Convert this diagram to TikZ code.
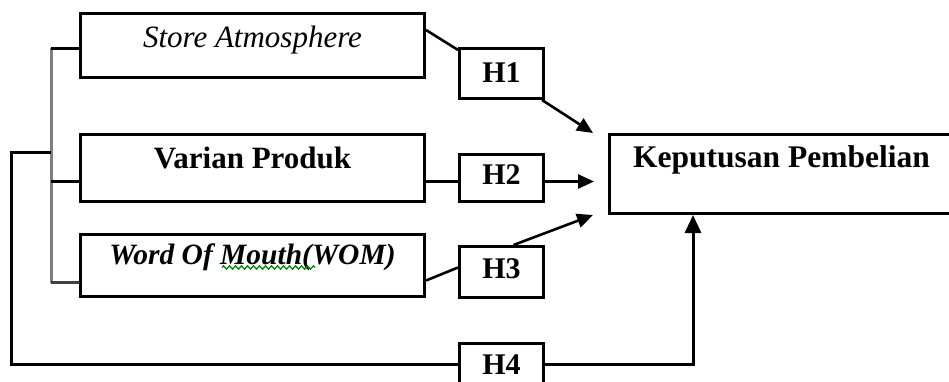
\documentclass[tikz,border=0pt]{standalone}
\usepackage{fontspec}
\setmainfont{Liberation Serif}
\usetikzlibrary{arrows.meta,decorations.pathmorphing}

\tikzset{
  boxnode/.style={draw, line width=3pt, anchor=north west, inner xsep=0pt,
    inner ysep=0pt},
  ital/.style={font=\fontsize{31}{36}\selectfont\itshape},
  bldital/.style={font=\fontsize{29.5}{36}\selectfont\bfseries\itshape},
  bld/.style={font=\fontsize{31}{36}\selectfont\bfseries},
  hyp/.style={font=\fontsize{30}{36}\selectfont\bfseries},
  link/.style={line width=2.6pt},
  arr/.style={line width=2.6pt, -{Triangle[length=16pt,width=14pt]}},
  brace/.style={line width=3pt, draw=black!50},
  spell/.style={draw=green!50!black, line width=1.3pt, decorate,
    decoration={zigzag, amplitude=1.6pt, segment length=6pt}}
}

\begin{document}
\begin{tikzpicture}[x=1pt, y=-1pt]
  \clip (0,0) rectangle (949,382);
  \useasboundingbox (0,0) rectangle (949,382);

  % independent variables
  \node[boxnode, ital, minimum width=344pt, text height=34pt, text depth=30pt]
    (sa) at (79,12) {Store Atmosphere};
  \node[boxnode, bld, minimum width=344pt, text height=34pt, text depth=33pt]
    (vp) at (79,133) {Varian Produk};
  \node[boxnode, bldital, minimum width=344pt, text height=30pt, text depth=32pt]
    (wom) at (79,233) {Word Of Mouth(WOM)};

  % hypothesis boxes
  \node[boxnode, hyp, minimum width=84pt, text height=34pt, text depth=16pt]
    (h1) at (458,47) {H1};
  \node[boxnode, hyp, minimum width=84pt, text height=30pt, text depth=17pt]
    (h2) at (458,153) {H2};
  \node[boxnode, hyp, minimum width=84pt, text height=32pt, text depth=19pt]
    (h3) at (458,245) {H3};
  \node[boxnode, hyp, minimum width=84pt, text height=31pt, text depth=11pt]
    (h4) at (458,342) {H4};

  % dependent variable
  \node[boxnode, bld, font=\fontsize{31.5}{36}\selectfont\bfseries,
    minimum width=344pt, text height=33pt, text depth=46pt]
    (kp) at (608,133) {Keputusan Pembelian};

  % spelling mark under "Mouth"
  \draw[spell] ([xshift=143pt,yshift=-2pt]wom.west) -- ([xshift=236pt,yshift=-2pt]wom.west);

  % partial paths
  \draw[link] ([yshift=-18pt]sa.north east) -- ([yshift=-3pt]h1.north west);
  \draw[arr] ([xshift=-3pt]h1.south east) -- ([xshift=-15pt]kp.north west);

  \draw[link] ([yshift=-13.5pt]vp.east) -- ([yshift=-3.5pt]h2.west);
  \draw[arr] ([yshift=-3.5pt]h2.east) -- ([xshift=-14pt,yshift=-7.5pt]kp.west);

  \draw[link] ([yshift=-15pt]wom.east) -- ([yshift=4.5pt]h3.west);
  \draw[arr] ([xshift=12pt]h3.north) -- ([xshift=-15pt]kp.south west);

  % bracket joining the three variables
  \coordinate (bx) at (51,0);
  \coordinate (t1) at ([yshift=-3pt]sa.west);
  \coordinate (t2) at ([yshift=-13.5pt]vp.west);
  \coordinate (t3) at ([yshift=-17pt]wom.west);
  \draw[brace] (bx|-t1) -- (bx|-t3);
  \draw[line width=3pt] (bx|-t1) -- (t1);
  \draw[line width=3pt] (bx|-t2) -- (t2);
  \draw[line width=3pt, draw=black!75] (bx|-t3) -- (t3);

  % simultaneous path
  \coordinate (ox) at (11,153);
  \draw[line width=3pt] (bx|-ox) -- (ox) |- (h4.west);
  \draw[line width=3pt, -{Triangle[length=18pt,width=16pt]}]
    (h4.east) -| ([xshift=85pt]kp.south west);
\end{tikzpicture}
\end{document}
